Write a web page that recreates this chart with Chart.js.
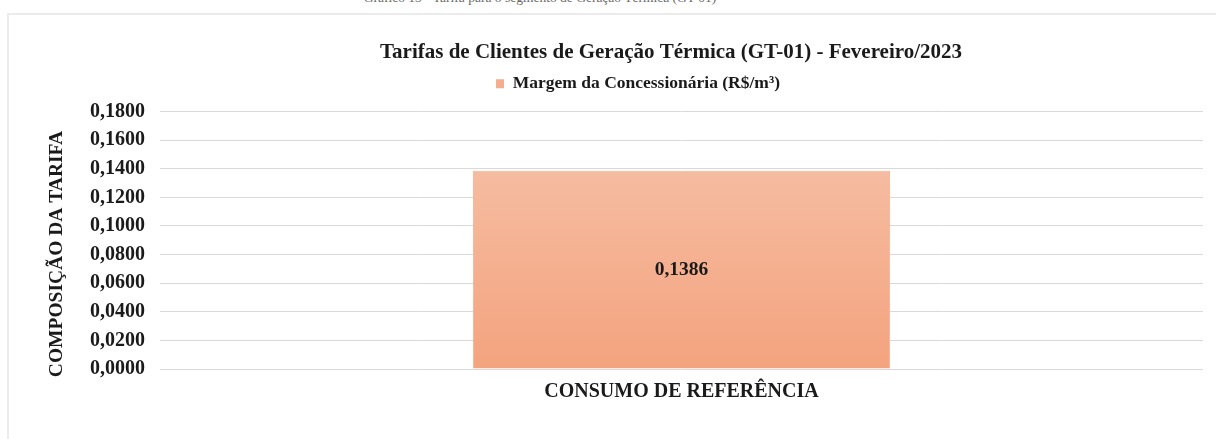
<!DOCTYPE html>
<html lang="pt-BR">
<head>
<meta charset="utf-8">
<script src="https://cdn.jsdelivr.net/npm/chart.js@4/dist/chart.umd.min.js"></script>
<style>
  html, body { margin: 0; padding: 0; background: #fff; }
  body { width: 1216px; height: 439px; position: relative; overflow: hidden; }
  #caption {
    position: absolute; left: 0; width: 1080px; top: -10px; text-align: center;
    font: 13.5px "Liberation Serif", serif; color: #6a6a6a;
  }
  #frame {
    position: absolute; left: 7px; top: 13px; width: 1230px; height: 450px;
    border: 2px solid #ececec; box-sizing: border-box;
  }
  #wrap { position: absolute; left: 0; top: 0; width: 1216px; height: 439px; }
</style>
</head>
<body>
<div id="caption">Gráfico 13 - Tarifa para o segmento de Geração Térmica (GT-01)</div>
<div id="frame"></div>
<div id="wrap"><canvas id="tarifaChart"></canvas></div>
<script>
// Chart data
const chartTitle = "Tarifas de Clientes de Geração Térmica (GT-01) - Fevereiro/2023";
const categories = ["CONSUMO DE REFERÊNCIA"];
const seriesName = "Margem da Concessionária (R$/m³)";
const margemValues = [0.1386];
const yTicks = [0, 0.02, 0.04, 0.06, 0.08, 0.10, 0.12, 0.14, 0.16, 0.18];
const yAxisTitle = "COMPOSIÇÃO DA TARIFA";

const serif = "'Liberation Serif', 'Times New Roman', serif";
const ink = "#1a1a1a";

// format like 0,1386
function fmt(v) {
    return v.toFixed(4).replace(".", ",");
}

// vertical gradient for the bar
function barFill(context) {
    const area = context.chart.chartArea;
    if (!area) return "#f4ae8f";
    const g = context.chart.ctx.createLinearGradient(0, area.top, 0, area.bottom);
    g.addColorStop(0, "#f6c3ab");
    g.addColorStop(1, "#f4a37e");
    return g;
}

// a bit more room under the legend, like the Excel original
const legendGap = {
    id: "legendGap",
    beforeLayout(chart) {
        const lg = chart.legend;
        if (lg && !lg._gapPatched) {
            const fit = lg.fit.bind(lg);
            lg.fit = function () { fit(); this.height += 9; };
            lg._gapPatched = true;
        }
    }
};

// Excel-like texts: chart title, y axis title, value in the bar
const excelText = {
    id: "excelText",
    afterDraw(chart) {
        const ctx = chart.ctx;
        ctx.save();
        ctx.fillStyle = ink;
        ctx.textAlign = "center";
        ctx.textBaseline = "middle";

        ctx.font = "bold 21px " + serif;
        ctx.fillText(chartTitle, 671, 53);

        ctx.save();
        ctx.translate(57, 254);
        ctx.rotate(-Math.PI / 2);
        ctx.font = "bold 19.5px " + serif;
        ctx.fillText(yAxisTitle, 0, 0);
        ctx.restore();

        const meta = chart.getDatasetMeta(0);
        ctx.font = "bold 19.5px " + serif;
        meta.data.forEach((bar, i) => {
            ctx.fillText(fmt(margemValues[i]), bar.x, (bar.y + bar.base) / 2);
        });
        ctx.restore();
    }
};

const ctx = document.getElementById("tarifaChart").getContext("2d");
new Chart(ctx, {
    type: "bar",
    data: {
        labels: categories,
        datasets: [{
            label: seriesName,
            data: margemValues,
            backgroundColor: barFill,
            borderColor: "#f3b496",
            borderWidth: 1,
            categoryPercentage: 0.4,
            barPercentage: 1
        }]
    },
    options: {
        responsive: true,
        maintainAspectRatio: false,
        animation: false,
        layout: { padding: { left: 73, right: 13, top: 65, bottom: 0 } },
        plugins: {
            title: { display: false },
            legend: {
                display: true,
                labels: {
                    color: ink,
                    font: { family: serif, size: 17.5, weight: "bold" },
                    boxWidth: 8,
                    boxHeight: 9,
                    padding: 10,
                    generateLabels(chart) {
                        const items = Chart.defaults.plugins.legend.labels.generateLabels(chart);
                        items.forEach(it => { it.fillStyle = "#f4ae8f"; it.strokeStyle = "#f4ae8f"; it.lineWidth = 0; });
                        return items;
                    }
                }
            },
            tooltip: { enabled: false }
        },
        scales: {
            x: {
                grid: { display: false },
                border: { display: false },
                ticks: {
                    color: ink,
                    font: { family: serif, size: 20, weight: "bold" },
                    padding: 3
                },
                afterFit(scale) { scale.height = 70; }
            },
            y: {
                min: 0,
                max: 0.18,
                afterBuildTicks(scale) {
                    scale.ticks = yTicks.map(v => ({ value: v }));
                },
                grid: { color: "#d9d9d9", drawTicks: false },
                border: { display: false },
                ticks: {
                    color: ink,
                    font: { family: serif, size: 20, weight: "bold" },
                    padding: 15,
                    callback: v => fmt(v)
                },
                afterFit(scale) { scale.width = 87; }
            }
        }
    },
    plugins: [legendGap, excelText]
});
</script>
</body>
</html>
